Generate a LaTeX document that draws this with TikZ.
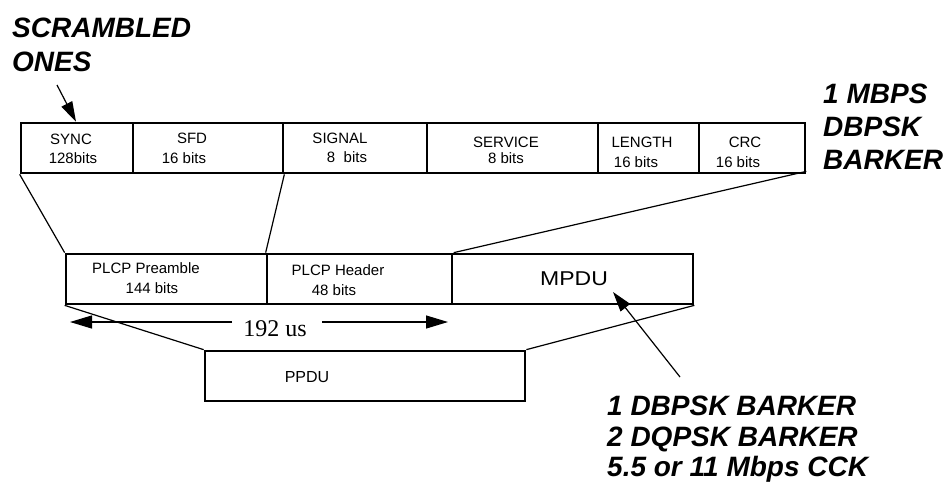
\documentclass[tikz,border=0pt]{standalone}
\usepackage{fontspec}
\usepackage{graphicx}
\setmainfont{Liberation Sans}
\newfontfamily\serifface{Liberation Serif}
\usetikzlibrary{arrows.meta}
\begin{document}
\begin{tikzpicture}[x=1pt,y=-1pt,
  field/.style={draw, line width=2.7pt, inner sep=0pt, minimum height=50pt},
  lbl/.style={font=\fontsize{15}{18}\selectfont, inner sep=0pt, anchor=base},
  big/.style={font=\fontsize{28}{32}\selectfont\bfseries\itshape, inner sep=0pt, anchor=base west},
  conn/.style={line width=1.2pt},
  arr/.style={line width=1.2pt, -{Triangle[length=20pt,width=12pt]}}]
\useasboundingbox (0,0) rectangle (944,485);
% top frame fields
\node[field, minimum width=112pt] (sync) at (77,148) {};
\node[field, minimum width=150pt] (sfd) at (208,148) {};
\node[field, minimum width=144pt] (signal) at (355,148) {};
\node[field, minimum width=171pt] (service) at (512.5,148) {};
\node[field, minimum width=101pt] (length) at (648.5,148) {};
\node[field, minimum width=106pt] (crc) at (752,148) {};
\node[lbl] (l1) at (71,144) {SYNC};
\node[lbl] (l2) at (73,163) {128bits};
\node[lbl] (l3) at (192,143) {SFD};
\node[lbl] (l4) at (184,163.5) {16 bits};
\node[lbl] (l5) at (340,143) {SIGNAL};
\node[lbl] (l6) at (347,162) {8\ \ bits};
\node[lbl] (l7) at (506,147) {SERVICE};
\node[lbl] (l8) at (506,163) {8 bits};
\node[lbl] (l9) at (642,147) {LENGTH};
\node[lbl] (l10) at (636,167) {16 bits};
\node[lbl] (l11) at (745,147) {CRC};
\node[lbl] (l12) at (738,167) {16 bits};
% middle frame
\node[field, minimum width=201pt] (pre) at (166.5,279) {};
\node[field, minimum width=185pt] (hdr) at (359.5,279) {};
\node[field, minimum width=241pt] (mpdu) at (572.5,279) {};
\node[lbl] (m1) at (146,273) {PLCP Preamble};
\node[lbl] (m2) at (152,293) {144 bits};
\node[lbl] (m3) at (338,275) {PLCP Header};
\node[lbl] (m4) at (334,295) {48 bits};
\node[lbl, font=\fontsize{20}{23}\selectfont] (m5) at (574,285) {\scalebox{1.15}[1]{MPDU}};
% bottom frame
\node[field, minimum width=320pt] (ppdu) at (365,376) {};
\node[lbl, font=\fontsize{16}{19}\selectfont] (p1) at (307,382) {PPDU};
% connectors
\draw[conn] (sync.south west) -- (pre.north west);
\draw[conn] (sfd.south east) -- (hdr.north west);
\draw[conn] ([yshift=3pt]crc.south east) -- ([xshift=3pt]mpdu.north west);
\draw[conn] (pre.south west) -- (ppdu.north west);
\draw[conn] (mpdu.south east) -- (ppdu.north east);
% 192 us
\node[inner sep=0pt, anchor=base, font=\serifface\fontsize{24}{28}\selectfont] (t192) at (275,336) {192 us};
\coordinate (lt) at (70,322);
\coordinate (rt) at (448,322);
\coordinate (ls) at (232,322);
\coordinate (rs) at (322,322);
\draw[line width=1.2pt, -{Triangle[length=22pt,width=13pt]}] (ls) -- (lt);
\draw[line width=1.2pt, -{Triangle[length=22pt,width=13pt]}] (rs) -- (rt);
% annotations
\node[big] (s1) at (12,37) {SCRAMBLED};
\node[big] (s2) at (12,71) {ONES};
\coordinate (stail) at (57,85);
\draw[arr] (stail) -- ([xshift=-1pt]sync.north);
\node[big] (r1) at (823,103) {1 MBPS};
\node[big] (r2) at (823,136) {DBPSK};
\node[big] (r3) at (823,169) {BARKER};
\node[big] (b1) at (607,415) {1 DBPSK BARKER};
\node[big] (b2) at (607,446) {2 DQPSK BARKER};
\node[big] (b3) at (607,476) {5.5 or 11 Mbps CCK};
\coordinate (mtail) at (680,377);
\coordinate (mtip) at (613,292);
\draw[arr] (mtail) -- (mtip);
\end{tikzpicture}
\end{document}
